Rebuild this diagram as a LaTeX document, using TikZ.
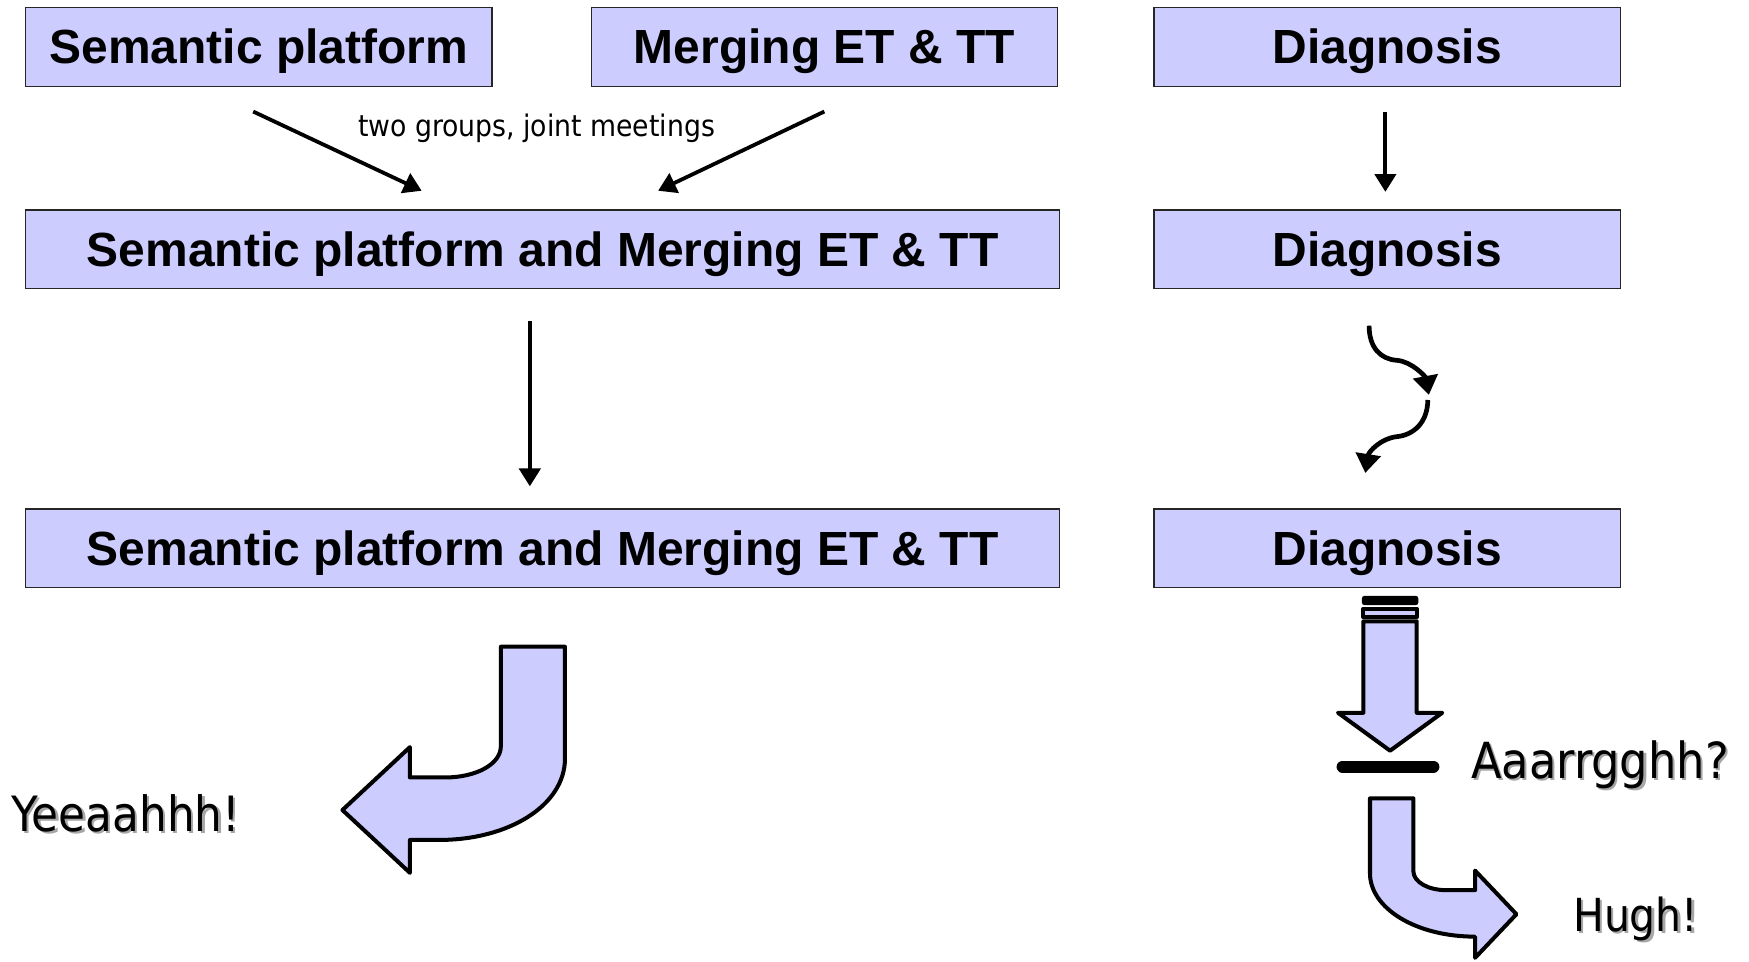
\documentclass[tikz,border=0pt]{standalone}
\usepackage{fontspec}
\setmainfont{Liberation Sans}
\newfontfamily\dvc{DejaVu Sans Condensed}
\usetikzlibrary{arrows.meta}
\definecolor{lav}{RGB}{204,204,255}
\begin{document}
\begin{tikzpicture}[x=0.5pt,y=-0.5pt,
  box/.style={draw=black!85,line width=0.6pt,fill=lav,minimum width=209pt,minimum height=35.3pt,inner sep=0pt,
    font=\fontsize{21.5}{24}\selectfont\bfseries,text height=15.3pt,text depth=0pt},
  widebox/.style={box,minimum width=463.5pt},
  conn/.style={line width=1.7pt,-{Triangle[length=8pt,width=9.5pt]}},
  curly/.style={line width=2.1pt,-{Triangle[length=8.5pt,width=11pt]}},
  blockarrow/.style={draw=black,fill=lav,line width=1.8pt,line join=round},
  shout/.style={inner sep=0pt,anchor=base west},
  shadowtxt/.style={shout,text=black!35}
]
\useasboundingbox (0,0) rectangle (1568,862);

% boxes
\node[box] (sp) at (232,42) {Semantic platform};
\node[box] (me) at (739,42) {Merging ET \& TT};
\node[box] (d1) at (1243.5,42) {Diagnosis};
\node[widebox] (spm1) at (486.5,223.5) {Semantic platform and Merging ET \& TT};
\node[box] (d2) at (1243.5,223.5) {Diagnosis};
\node[widebox] (spm2) at (486.5,491.5) {Semantic platform and Merging ET \& TT};
\node[box] (d3) at (1243.5,491.5) {Diagnosis};

% straight connectors
\coordinate (a1s) at (227,100);  \coordinate (a1e) at (378,171);
\coordinate (a2s) at (739,100);  \coordinate (a2e) at (590,171);
\coordinate (a3s) at (475,288);  \coordinate (a3e) at (475,436);
\coordinate (a4s) at (1242,100); \coordinate (a4e) at (1242,172);
\draw[conn] (a1s) -- (a1e);
\draw[conn] (a2s) -- (a2e);
\draw[conn] (a3s) -- (a3e);
\draw[conn] (a4s) -- (a4e);
\node[font=\dvc\fontsize{13.3}{15}\selectfont,anchor=base,inner sep=0pt] (lbl) at (481,122) {two groups, joint meetings};

% curly connectors
\coordinate (c1s) at (1227.4,292); \coordinate (c1m) at (1252,323); \coordinate (c1e) at (1281,354);
\coordinate (c2s) at (1280,358.6); \coordinate (c2m) at (1252,391.5); \coordinate (c2e) at (1224,424);
\draw[curly] (c1s) .. controls (1227.4,312) and (1238,322) .. (c1m) .. controls (1266,324) and (1278,338) .. (c1e);
\draw[curly] (c2s) .. controls (1280,378) and (1268,390) .. (c2m) .. controls (1238,393) and (1227,405) .. (c2e);

% left bent block arrow
\draw[blockarrow] (449,579.8) -- (506.5,579.8) -- (506.5,680)
  .. controls (506.5,722) and (456,753) .. (394,753) -- (367.5,753) -- (367.5,782.5)
  -- (307,726.2) -- (367.5,669.8) -- (367.5,697) -- (399,697)
  .. controls (427,697) and (449,685) .. (449,669) -- cycle;

% right down arrow with stripes
\fill[black,rounded corners=1pt] (1221,534.3) rectangle (1271.5,542.4);
\draw[blockarrow] (1222.3,545.7) rectangle (1270.1,553.4);
\draw[blockarrow] (1222.3,557) -- (1270.1,557) -- (1270.1,639) -- (1293,639)
  -- (1246.2,673) -- (1199.5,639) -- (1222.3,639) -- cycle;
\draw[line width=5.25pt,line cap=round] (1203.5,687.3) -- (1285.2,687.3);

% right bent block arrow
\draw[blockarrow] (1228.2,715.7) -- (1267.1,715.7) -- (1267.1,781)
  .. controls (1267.1,791) and (1281,798) .. (1296,798) -- (1322.4,798) -- (1322.4,780.5)
  -- (1359.5,819.6) -- (1322.4,858.7) -- (1322.4,839.7)
  .. controls (1269,839.7) and (1228.2,814) .. (1228.2,783) -- cycle;

% exclamations with shadow
\node[shadowtxt,font=\dvc\fontsize{21.8}{24}\selectfont] at (12,747.6) {Yeeaahhh!};
\node[shout,font=\dvc\fontsize{21.8}{24}\selectfont] (yea) at (10,745.6) {Yeeaahhh!};
\node[shadowtxt,font=\dvc\fontsize{22.3}{24}\selectfont] at (1320.4,699.8) {Aaarrgghh?};
\node[shout,font=\dvc\fontsize{22.3}{24}\selectfont] (aar) at (1318.4,697.8) {Aaarrgghh?};
\node[shadowtxt,font=\dvc\fontsize{20.4}{24}\selectfont] at (1412,837.2) {Hugh!};
\node[shout,font=\dvc\fontsize{20.4}{24}\selectfont] (hug) at (1410,835.2) {Hugh!};
\end{tikzpicture}
\end{document}
